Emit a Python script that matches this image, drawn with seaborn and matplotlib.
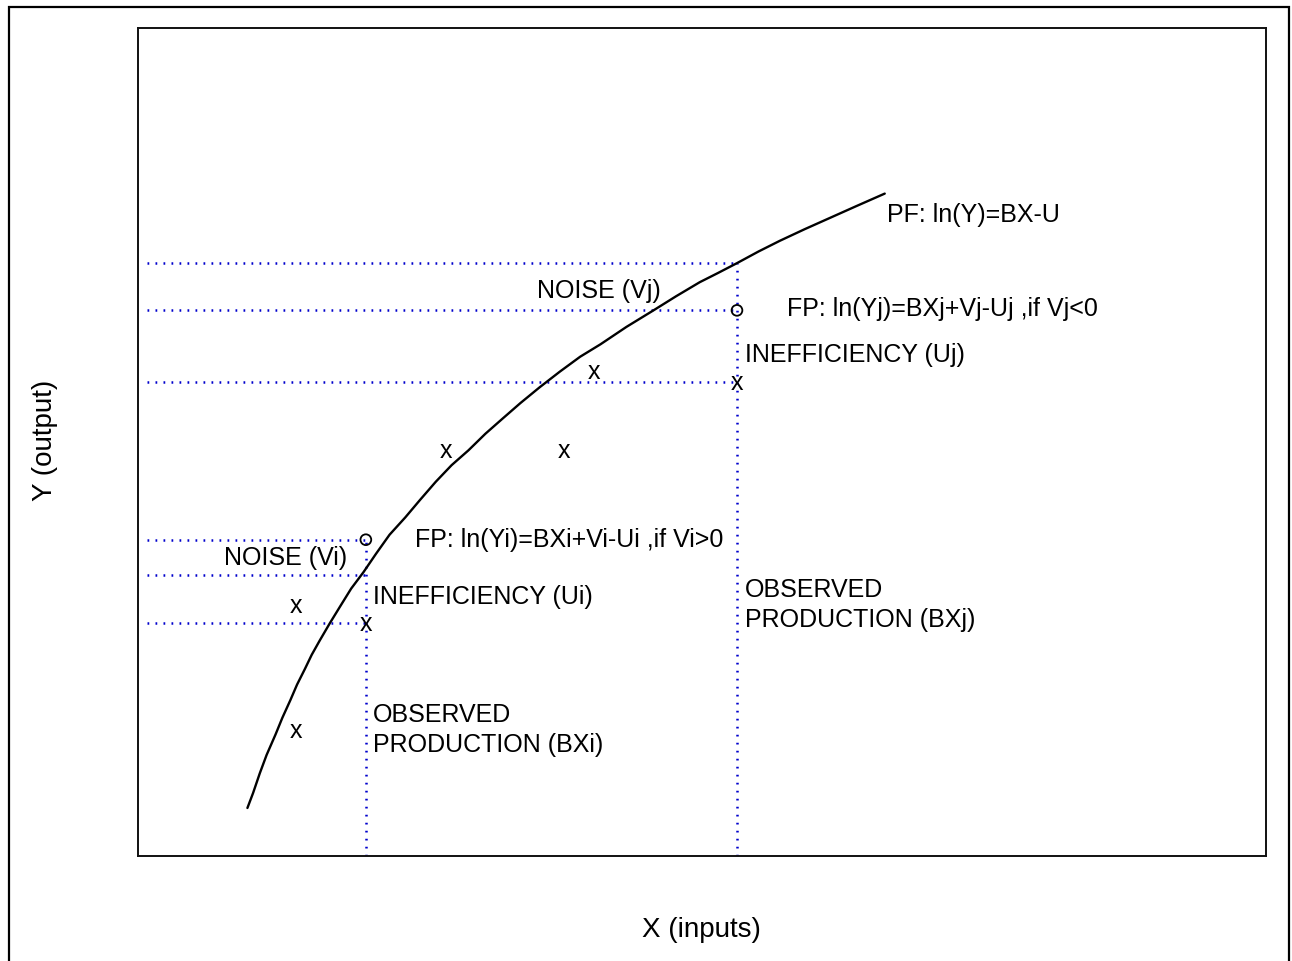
import matplotlib
matplotlib.use("Agg")
import matplotlib.pyplot as plt
from matplotlib.patches import Rectangle
import seaborn as sns
import pandas as pd

sns.set_style("white")
plt.rcParams["font.family"] = ["Liberation Sans", "DejaVu Sans"]
plt.rcParams["text.color"] = "black"

# Production frontier, sampled points (inputs, output)
frontier_x = [0.97, 1.02, 1.08, 1.14, 1.22, 1.28, 1.35, 1.41, 1.48, 1.54, 1.61, 1.70,
              1.79, 1.89, 2.00, 2.11, 2.23, 2.37, 2.50, 2.64, 2.78, 2.93, 3.08, 3.23,
              3.39, 3.56, 3.74, 3.92, 4.10, 4.33, 4.57, 4.77, 4.98, 5.14, 5.31, 5.50,
              5.69, 5.91, 6.14, 6.37, 6.62]
frontier_y = [0.58, 0.76, 1.00, 1.22, 1.47, 1.67, 1.88, 2.07, 2.26, 2.43, 2.60, 2.81,
              3.01, 3.23, 3.43, 3.65, 3.88, 4.09, 4.30, 4.52, 4.72, 4.90, 5.10, 5.28,
              5.47, 5.66, 5.85, 6.03, 6.18, 6.39, 6.59, 6.76, 6.93, 7.04, 7.16, 7.30,
              7.43, 7.57, 7.71, 7.85, 8.00]

# Firm i and firm j input levels
firm_x = [2.02, 5.31]
# Frontier-with-noise outputs (o markers)
firm_noisy_y = [3.82, 6.59]
# Frontier outputs at the firm inputs
firm_frontier_y = [3.39, 7.16]
# Observed outputs (x on the guide lines)
firm_obs_y = [2.81, 5.73]

# Other observed firms
other_x = [1.40, 1.40, 2.73, 3.78, 4.04]
other_y = [3.03, 1.52, 4.90, 4.90, 5.86]

FS = 18
GUIDE = dict(color="#0000CC", lw=1.8, linestyle=(0, (0.7, 2.5)))

fig = plt.figure(figsize=(12.92, 9.62), dpi=100)
ax = fig.add_axes([138 / 1292, 1 - 857 / 962, 1128 / 1292, 828 / 962])
ax.set_xlim(0, 10)
ax.set_ylim(0, 10)
ax.set_xticks([])
ax.set_yticks([])
for s in ax.spines.values():
    s.set_color("#111111")
    s.set_linewidth(1.4)

# Outer frame around the figure
fig.patches.append(Rectangle((9 / 1292, -0.02), 1280 / 1292, 1 - 8 / 962 + 0.02,
                             transform=fig.transFigure, fill=False,
                             edgecolor="black", lw=1.6, zorder=0))

# Guide lines: verticals at firm inputs, horizontals to the y axis
left_edge = 0.08
for xv, y_noisy, y_front, y_obs in zip(firm_x, firm_noisy_y, firm_frontier_y, firm_obs_y):
    top = max(y_noisy, y_front)
    ax.plot([xv, xv], [0, top], **GUIDE)
    for yv in (y_noisy, y_front, y_obs):
        ax.plot([left_edge, xv], [yv, yv], **GUIDE)

# Frontier curve
df = pd.DataFrame({"x": frontier_x, "y": frontier_y})
sns.lineplot(data=df, x="x", y="y", ax=ax, color="black", lw=1.7, sort=False,
             legend=False, solid_joinstyle="round")
ax.set_xlabel("")
ax.set_ylabel("")

# Noisy frontier points
sns.scatterplot(x=firm_x, y=firm_noisy_y, ax=ax, marker="o", s=60,
                facecolors="none", edgecolors="black", linewidth=1.3, zorder=5)

# Observed points drawn as x glyphs
for xv, yv in zip(firm_x + other_x, firm_obs_y + other_y):
    ax.text(xv, yv, "x", fontsize=FS, ha="center", va="center", zorder=6)

# Annotations
ax.text(6.64, 7.75, "PF: ln(Y)=BX-U", fontsize=FS, ha="left", va="center")
ax.text(3.54, 6.84, "NOISE (Vj)", fontsize=FS, ha="left", va="center")
ax.text(5.75, 6.62, "FP: ln(Yj)=BXj+Vj-Uj ,if Vj<0", fontsize=FS, ha="left", va="center")
ax.text(5.38, 6.06, "INEFFICIENCY (Uj)", fontsize=FS, ha="left", va="center")
ax.text(5.38, 3.04, "OBSERVED\nPRODUCTION (BXj)", fontsize=FS, ha="left", va="center",
        linespacing=1.3)
ax.text(2.46, 3.83, "FP: ln(Yi)=BXi+Vi-Ui ,if Vi>0", fontsize=FS, ha="left", va="center")
ax.text(1.85, 3.61, "NOISE (Vi)", fontsize=FS, ha="right", va="center")
ax.text(2.08, 3.14, "INEFFICIENCY (Ui)", fontsize=FS, ha="left", va="center")
ax.text(2.08, 1.53, "OBSERVED\nPRODUCTION (BXi)", fontsize=FS, ha="left", va="center",
        linespacing=1.3)

# Axis titles
fig.text(45 / 1292, 1 - 440 / 962, "Y (output)", fontsize=20, rotation=90,
         ha="center", va="center")
fig.text(701 / 1292, 1 - 930 / 962, "X (inputs)", fontsize=20, ha="center", va="center")

fig.savefig("out.png", dpi=100)
